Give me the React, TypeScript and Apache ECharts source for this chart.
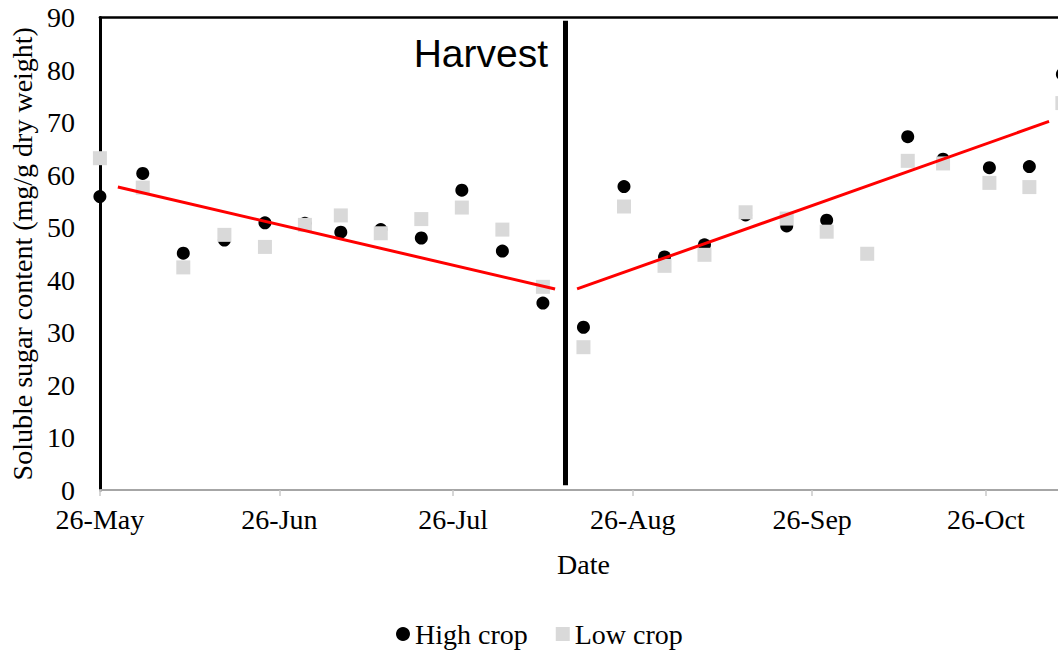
import React, { useEffect, useRef } from "react";
import * as echarts from "echarts";

// Days since 26-May
const sampleDays = [0, 7.4, 14.4, 21.5, 28.5, 35.4, 41.6, 48.5, 55.5, 62.5, 69.5, 76.5, 83.5, 90.5, 97.5, 104.4, 111.5, 118.6, 125.5, 132.5, 139.5, 145.6, 153.6, 160.5, 166.2];
const highCrop: (number | null)[] = [55.9, 60.3, 45.1, 47.6, 50.9, 50.8, 49.1, 49.6, 48.0, 57.1, 45.5, 35.6, 31.0, 57.8, 44.4, 46.7, 52.4, 50.3, 51.4, null, 67.3, 63.0, 61.4, 61.6, 79.2];
const lowCrop: (number | null)[] = [63.2, 57.6, 42.4, 48.6, 46.3, 50.5, 52.3, 48.9, 51.6, 53.8, 49.6, 38.7, 27.2, 54.0, 42.7, 44.8, 52.9, 51.7, 49.2, 45.0, 62.7, 62.2, 58.5, 57.7, 73.7];

const trendBefore = [[3.1, 57.7], [78.6, 38.3]];
const trendAfter = [[82.4, 38.3], [163.9, 70.2]];
const harvestLine = [[80.4, 0.9], [80.4, 89.4]];

const tickDays = [0, 31, 61, 92, 123, 153];
const tickLabels = ["26-May", "26-Jun", "26-Jul", "26-Aug", "26-Sep", "26-Oct"];

const SERIF = '"Liberation Serif", "Times New Roman", serif';

export default function App() {
  const ref = useRef<HTMLDivElement>(null);
  useEffect(() => {
    if (!ref.current) return;
    const chart = echarts.init(ref.current, undefined, { renderer: "svg" });
    const pair = (vals: (number | null)[]) =>
      sampleDays.map((d, i) => [d, vals[i]]).filter((p) => p[1] !== null);
    chart.setOption({
      animation: false,
      backgroundColor: "#ffffff",
      grid: { left: 98, top: 17.5, right: 0, bottom: 161 },
      legend: {
        data: [
          { name: "High crop", icon: "circle" },
          { name: "Low crop", icon: "rect" },
        ],
        left: 391,
        top: 614,
        itemWidth: 14,
        itemHeight: 14,
        itemGap: 28,
        textStyle: { fontFamily: SERIF, fontSize: 28, lineHeight: 30, color: "#000" },
      },
      xAxis: [
        {
          type: "value",
          min: 0,
          max: 167,
          name: "Date",
          nameLocation: "middle",
          nameGap: 60,
          nameTextStyle: { fontFamily: SERIF, fontSize: 28, color: "#000" },
          axisLine: { lineStyle: { color: "#a6a6a6", width: 2 } },
          axisTick: { show: true, length: 6, lineStyle: { color: "#c8c8c8", width: 1.5 }, customValues: tickDays },
          axisLabel: {
            customValues: tickDays,
            margin: 15,
            fontFamily: SERIF,
            fontSize: 28,
            color: "#000",
            formatter: (v: number) => {
              const i = tickDays.indexOf(Math.round(v));
              return i >= 0 ? tickLabels[i] : "";
            },
          },
          splitLine: { show: false },
        },
        {
          type: "value",
          position: "top",
          min: 0,
          max: 167,
          axisLine: { show: true, onZero: false, lineStyle: { color: "#000", width: 2.5 } },
          axisTick: { show: false },
          axisLabel: { show: false },
          splitLine: { show: false },
        },
      ],
      yAxis: {
        type: "value",
        min: 0,
        max: 90,
        interval: 10,
        name: "Soluble sugar content (mg/g dry weight)",
        nameLocation: "middle",
        nameGap: 62,
        nameTextStyle: { fontFamily: SERIF, fontSize: 28, color: "#000" },
        axisLine: { show: true, lineStyle: { color: "#000", width: 3 } },
        axisTick: { show: false },
        axisLabel: { margin: 25, fontFamily: SERIF, fontSize: 28, color: "#000" },
        splitLine: { show: false },
      },
      series: [
        {
          name: "High crop",
          type: "scatter",
          symbol: "circle",
          symbolSize: 13,
          clip: false,
          itemStyle: { color: "#000", opacity: 1 },
          data: pair(highCrop),
        },
        {
          name: "Low crop",
          type: "scatter",
          symbol: "rect",
          symbolSize: 14,
          clip: false,
          itemStyle: { color: "#d9d9d9", opacity: 1 },
          data: pair(lowCrop),
        },
        {
          name: "Harvest",
          type: "line",
          symbol: "none",
          lineStyle: { color: "#000", width: 5 },
          data: harvestLine,
        },
        {
          name: "Trend before",
          type: "line",
          symbol: "none",
          lineStyle: { color: "#ff0000", width: 3 },
          data: trendBefore,
        },
        {
          name: "Trend after",
          type: "line",
          symbol: "none",
          lineStyle: { color: "#ff0000", width: 3 },
          data: trendAfter,
        },
      ],
      graphic: [
        {
          type: "text",
          x: 548,
          y: 34,
          style: {
            text: "Harvest",
            font: '39px "Liberation Sans", Arial, sans-serif',
            fill: "#000",
            align: "right",
            verticalAlign: "top",
          },
        },
      ],
    });
    return () => chart.dispose();
  }, []);
  return (
    <div
      ref={ref}
      style={{ position: "fixed", left: 0, top: 0, width: 1067, height: 651, background: "#fff" }}
    />
  );
}
